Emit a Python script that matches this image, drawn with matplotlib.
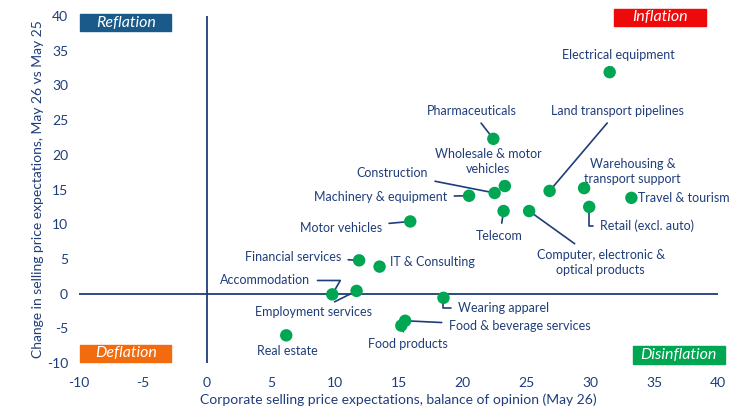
import matplotlib
matplotlib.use("Agg")
import matplotlib.pyplot as plt
from matplotlib.patches import Rectangle

plt.rcParams['font.family'] = ['Lato', 'DejaVu Sans']
plt.rcParams['axes.unicode_minus'] = False

# sector data: balance of opinion (May 26) and change vs May 25
sectors = ["Electrical equipment", "Pharmaceuticals", "Wholesale & motor\nvehicles",
           "Construction", "Land transport pipelines", "Warehousing &\ntransport support",
           "Travel & tourism", "Machinery & equipment", "Telecom",
           "Computer, electronic &\noptical products", "Retail (excl. auto)", "Motor vehicles",
           "Financial services", "IT & Consulting", "Accommodation", "Employment services",
           "Wearing apparel", "Food & beverage services", "Food products", "Real estate"]
balance = [31.5, 22.4, 23.3, 22.5, 26.8, 29.5, 33.2, 20.5, 23.2, 25.2, 29.9, 15.9,
           11.9, 13.5, 9.8, 11.7, 18.5, 15.5, 15.2, 6.2]
change = [31.9, 22.3, 15.5, 14.5, 14.8, 15.2, 13.8, 14.1, 11.9, 11.9, 12.5, 10.4,
          4.8, 3.9, -0.1, 0.4, -0.6, -3.9, -4.6, -6.0]

quadrants = ["Reflation", "Inflation", "Deflation", "Disinflation"]

navy = "#1f3d7a"
dot_green = "#00a651"

# label placement (layout only)
label_pos = {
    "Electrical equipment": (32.2, 34.4, "center", None),
    "Pharmaceuticals": (20.7, 26.3, "center", None),
    "Wholesale & motor\nvehicles": (22.0, 19.0, "center", None),
    "Construction": (17.3, 17.4, "right", None),
    "Land transport pipelines": (32.1, 26.3, "center", None),
    "Warehousing &\ntransport support": (33.3, 17.6, "center", None),
    "Travel & tourism": (33.7, 13.8, "left", "none"),
    "Machinery & equipment": (18.8, 13.9, "right", None),
    "Telecom": (22.9, 8.3, "center", None),
    "Computer, electronic &\noptical products": (30.8, 4.5, "center", None),
    "Retail (excl. auto)": (30.75, 9.8, "left", "angle,angleA=0,angleB=90,rad=0"),
    "Motor vehicles": (13.7, 9.5, "right", None),
    "Financial services": (10.5, 5.3, "right", None),
    "IT & Consulting": (14.3, 4.5, "left", None),
    "Accommodation": (8.1, 1.9, "right", "angle,angleA=0,angleB=60,rad=0"),
    "Employment services": (8.3, -2.7, "center", None),
    "Wearing apparel": (19.6, -2.0, "left", "angle,angleA=0,angleB=90,rad=0"),
    "Food & beverage services": (18.9, -4.7, "left", None),
    "Food products": (15.7, -7.3, "center", None),
    "Real estate": (6.3, -8.3, "center", None),
}

fig = plt.figure(figsize=(7.33, 4.08), dpi=100)
ax = fig.add_axes([0.108, 0.11, 0.872, 0.851])

ax.axhline(0, color=navy, lw=1.3, zorder=1)
ax.axvline(0, color=navy, lw=1.3, zorder=1)

ax.scatter(balance, change, s=80, color=dot_green, zorder=3, edgecolors="none")

for name, x, y in zip(sectors, balance, change):
    tx, ty, ha, conn = label_pos[name]
    if conn == "none":
        ax.text(tx, ty, name, ha=ha, va="center", color=navy, fontsize=9)
        continue
    ap = dict(arrowstyle="-", color=navy, lw=1.2, shrinkA=3, shrinkB=4)
    if conn:
        ap["connectionstyle"] = conn
    ax.annotate(name, xy=(x, y), xytext=(tx, ty), ha=ha, va="center",
                color=navy, fontsize=9, linespacing=1.3, arrowprops=ap, zorder=2)

# quadrant tags
boxes = [(-9.9, 37.8, 7.1, 2.5, "#1a5a8a"),
         (31.8, 38.6, 7.2, 2.4, "#ee0a0a"),
         (-9.9, -9.8, 7.1, 2.4, "#f26b0f"),
         (33.3, -10.1, 7.2, 2.6, "#00a651")]
for q, (bx, by, bw, bh, c) in zip(quadrants, boxes):
    ax.add_patch(Rectangle((bx, by), bw, bh, color=c, clip_on=False, zorder=4))
    ax.text(bx + bw / 2, by + bh / 2, q, ha="center", va="center", color="white",
            fontsize=11.5, style="italic", zorder=5, clip_on=False)

ax.set_xlim(-10, 40)
ax.set_ylim(-10, 40)
ax.set_xticks(range(-10, 41, 5))
ax.set_yticks(range(-10, 41, 5))
for s in ax.spines.values():
    s.set_visible(False)
ax.tick_params(length=0, colors=navy, labelsize=10, pad=8)
ax.tick_params(axis="x", pad=10)
ax.set_xlabel("Corporate selling price expectations, balance of opinion (May 26)",
              color=navy, fontsize=10, labelpad=3)
ax.set_ylabel("Change in selling price expectations, May 26 vs May 25",
              color=navy, fontsize=10, labelpad=2)

fig.savefig("out.png", dpi=100)
